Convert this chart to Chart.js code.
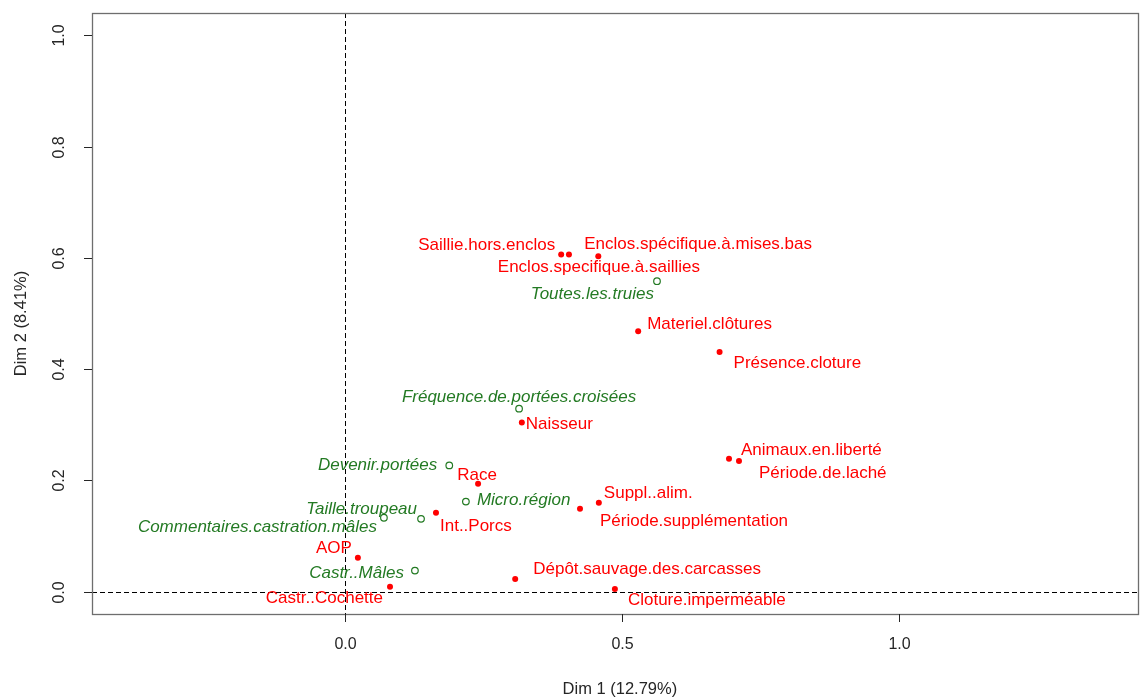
<!DOCTYPE html>
<html>
<head>
<meta charset="utf-8">
<script src="https://cdn.jsdelivr.net/npm/chart.js@4.4.1/dist/chart.umd.min.js"></script>
<style>
  html, body { margin: 0; padding: 0; background: #fff; }
  #wrap { width: 1143px; height: 698px; }
</style>
</head>
<body>
<div id="wrap"><canvas id="c" width="1143" height="698"></canvas></div>
<script>
// active variables (red, filled dots)
const redLabels = ['Saillie.hors.enclos', 'Enclos.specifique.à.saillies', 'Enclos.spécifique.à.mises.bas',
  'Materiel.clôtures', 'Présence.cloture', 'Naisseur', 'Animaux.en.liberté', 'Période.de.laché',
  'Race', 'Int..Porcs', 'Suppl..alim.', 'Période.supplémentation', 'AOP', 'Castr..Cochette',
  'Dépôt.sauvage.des.carcasses', 'Cloture.imperméable'];
const redX = [0.390, 0.404, 0.457, 0.529, 0.676, 0.319, 0.693, 0.711, 0.240, 0.164, 0.458, 0.424, 0.023, 0.081, 0.307, 0.487];
const redY = [0.606, 0.606, 0.603, 0.468, 0.431, 0.304, 0.239, 0.235, 0.194, 0.142, 0.160, 0.149, 0.061, 0.009, 0.023, 0.005];

// supplementary variables (green, open circles)
const greenLabels = ['Toutes.les.truies', 'Fréquence.de.portées.croisées', 'Devenir.portées', 'Taille.troupeau',
  'Commentaires.castration.mâles', 'Micro.région', 'Castr..Mâles'];
const greenX = [0.563, 0.314, 0.188, 0.137, 0.070, 0.218, 0.126];
const greenY = [0.558, 0.329, 0.227, 0.131, 0.133, 0.162, 0.038];

const xTicks = [0, 0.5, 1.0];
const yTicks = [0, 0.2, 0.4, 0.6, 0.8, 1.0];
const xTitle = 'Dim 1 (12.79%)';
const yTitle = 'Dim 2 (8.41%)';

// label placement (pixel offset from the point, text alignment)
const redLabelPos = [
  [-6, -9, 'right'], [30, 13, 'center'], [-14, -12, 'left'], [9, -7, 'left'], [14, 11, 'left'],
  [4, 2, 'left'], [12, -8, 'left'], [20, 12, 'left'], [-1, -8, 'center'], [4, 14, 'left'],
  [5, -9, 'left'], [20, 12, 'left'], [-6, -9, 'right'], [-7, 12, 'right'], [18, -10, 'left'], [13, 11, 'left']
];
const greenLabelPos = [
  [-3, 13, 'right'], [0, -11, 'center'], [-12, 0, 'right'], [-4, -10, 'right'],
  [-7, 10, 'right'], [11, -1, 'left'], [-11, 3, 'right']
];

const RED = '#ff0000';
const GREEN = '#237a23';
const FONT = '"Liberation Sans", Arial, sans-serif';

const toPoints = (xs, ys) => xs.map((x, i) => ({ x: x, y: ys[i] }));

const rPlot = {
  id: 'rPlot',
  beforeDatasetsDraw(chart) {
    const { ctx, chartArea: a, scales: { x, y } } = chart;
    ctx.save();
    // dashed reference lines through the origin
    ctx.strokeStyle = '#000';
    ctx.lineWidth = 1;
    ctx.setLineDash([5, 3]);
    const x0 = Math.round(x.getPixelForValue(0)) + 0.5;
    const y0 = Math.round(y.getPixelForValue(0)) + 0.5;
    ctx.beginPath();
    ctx.moveTo(x0, a.top); ctx.lineTo(x0, a.bottom);
    ctx.moveTo(a.left, y0); ctx.lineTo(a.right, y0);
    ctx.stroke();
    ctx.restore();
  },
  afterDatasetsDraw(chart) {
    const { ctx, chartArea: a, scales: { x, y } } = chart;
    ctx.save();
    // box
    ctx.strokeStyle = '#6e6e6e';
    ctx.lineWidth = 1.3;
    ctx.setLineDash([]);
    ctx.strokeRect(Math.round(a.left) + 0.5, Math.round(a.top) + 0.5,
      Math.round(a.right - a.left), Math.round(a.bottom - a.top));

    // tick marks + tick labels
    ctx.fillStyle = '#262626';
    ctx.strokeStyle = '#262626';
    ctx.lineWidth = 1;
    ctx.font = '16px ' + FONT;
    ctx.textBaseline = 'middle';
    xTicks.forEach(v => {
      const px = Math.round(x.getPixelForValue(v)) + 0.5;
      ctx.beginPath(); ctx.moveTo(px, a.bottom); ctx.lineTo(px, a.bottom + 8); ctx.stroke();
      ctx.textAlign = 'center';
      ctx.fillText(v.toFixed(1), px, a.bottom + 31);
    });
    yTicks.forEach(v => {
      const py = Math.round(y.getPixelForValue(v)) + 0.5;
      ctx.beginPath(); ctx.moveTo(a.left, py); ctx.lineTo(a.left - 8, py); ctx.stroke();
      ctx.save();
      ctx.translate(a.left - 32, py);
      ctx.rotate(-Math.PI / 2);
      ctx.textAlign = 'center';
      ctx.fillText(v.toFixed(1), 0, 0);
      ctx.restore();
    });

    // axis titles
    ctx.font = '16.5px ' + FONT;
    ctx.textAlign = 'center';
    ctx.fillText(xTitle, (a.left + a.right) / 2 + 5, a.bottom + 75);
    ctx.save();
    ctx.translate(21, (a.top + a.bottom) / 2 + 10);
    ctx.rotate(-Math.PI / 2);
    ctx.fillText(yTitle, 0, 0);
    ctx.restore();

    // point labels
    ctx.font = '17px ' + FONT;
    ctx.fillStyle = RED;
    chart.getDatasetMeta(0).data.forEach((pt, i) => {
      const p = redLabelPos[i];
      ctx.textAlign = p[2];
      ctx.fillText(redLabels[i], pt.x + p[0], pt.y + p[1]);
    });
    ctx.font = 'italic 17px ' + FONT;
    ctx.fillStyle = GREEN;
    chart.getDatasetMeta(1).data.forEach((pt, i) => {
      const p = greenLabelPos[i];
      ctx.textAlign = p[2];
      ctx.fillText(greenLabels[i], pt.x + p[0], pt.y + p[1]);
    });
    ctx.restore();
  }
};

new Chart(document.getElementById('c'), {
  type: 'scatter',
  data: {
    datasets: [
      {
        label: 'active',
        data: toPoints(redX, redY),
        pointRadius: 3,
        pointBackgroundColor: RED,
        pointBorderColor: RED,
        pointBorderWidth: 0
      },
      {
        label: 'supplementary',
        data: toPoints(greenX, greenY),
        pointRadius: 3.3,
        pointBackgroundColor: 'rgba(0,0,0,0)',
        pointBorderColor: GREEN,
        pointBorderWidth: 1.2
      }
    ]
  },
  options: {
    responsive: false,
    animation: false,
    layout: { padding: { top: 13, right: 0, left: 0, bottom: 0 } },
    plugins: { legend: { display: false }, tooltip: { enabled: false } },
    scales: {
      x: {
        type: 'linear',
        min: -0.457,
        max: 1.431,
        grid: { display: false },
        border: { display: false },
        ticks: { display: false },
        afterFit: s => { s.height = 84; }
      },
      y: {
        type: 'linear',
        min: -0.04,
        max: 1.04,
        grid: { display: false },
        border: { display: false },
        ticks: { display: false },
        afterFit: s => { s.width = 92; }
      }
    }
  },
  plugins: [rPlot]
});
</script>
</body>
</html>
